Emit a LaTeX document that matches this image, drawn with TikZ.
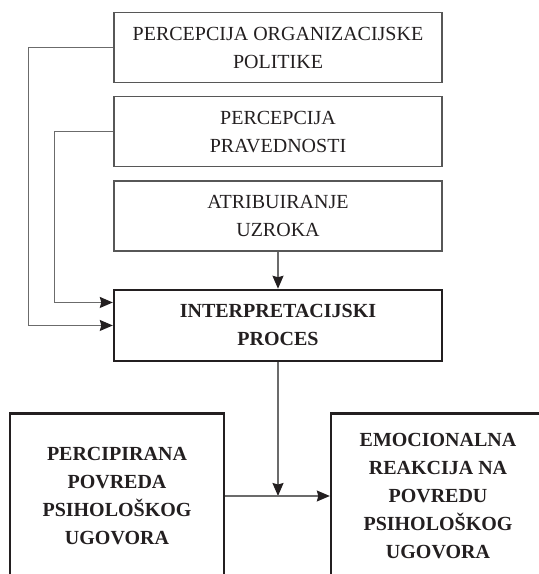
\documentclass[tikz,border=0pt]{standalone}
\usepackage{fontspec}
\setmainfont{Liberation Serif}
\usetikzlibrary{arrows.meta,positioning}
\definecolor{Ink}{HTML}{231F20}
\definecolor{Frame}{HTML}{575757}
\definecolor{Wire}{HTML}{6B6B6B}
\tikzset{
  factor/.style={
    draw=Frame, line width=1.3pt, text=Ink, inner sep=0pt,
    minimum width=328pt, minimum height=70pt, align=center,
    font=\fontsize{20}{28}\selectfont
  },
  process/.style={
    factor, draw=Ink, line width=2.4pt, minimum height=71pt,
    font=\fontsize{20}{28}\selectfont\bfseries
  },
  outcome/.style={
    draw=Ink, line width=2.4pt, text=Ink, inner sep=0pt,
    minimum width=214pt, minimum height=165pt, align=center,
    font=\fontsize{20}{28}\selectfont\bfseries
  },
  link/.style={-{Stealth[length=13pt,width=11pt,inset=1.5pt,color=Ink]}, line width=1.3pt, draw=Wire}
}

\begin{document}
\begin{tikzpicture}[x=1pt,y=-1pt,node distance=13pt]
  \useasboundingbox (0,0) rectangle (539,574);
  \clip (0,0) rectangle (539,574);
  \node[factor] (politika) at (278,47.5) {PERCEPCIJA ORGANIZACIJSKE\\POLITIKE};
  \node[factor,below=of politika] (pravednost) {PERCEPCIJA\\PRAVEDNOSTI};
  \node[factor,below=of pravednost] (uzrok) {ATRIBUIRANJE\\UZROKA};
  \node[process,below=37pt of uzrok] (proces) {INTERPRETACIJSKI\\PROCES};
  \node[outcome] (povreda) at (117,496) {PERCIPIRANA\\POVREDA\\PSIHOLOŠKOG\\UGOVORA};
  \node[outcome] (reakcija) at (438,496) {EMOCIONALNA\\REAKCIJA NA\\POVREDU\\PSIHOLOŠKOG\\UGOVORA};
  \coordinate (spoj) at (proces.south |- povreda.east);
  \draw[link] (politika.west) -- ++(-85,0) |- (proces.west);
  \draw[link] (pravednost.west) -- ++(-59,0) |- ([yshift=23pt]proces.west);
  \draw[link] (uzrok) -- (proces);
  \draw[link] (proces) -- (spoj);
  \draw[link] (povreda) -- (reakcija);
\end{tikzpicture}
\end{document}
